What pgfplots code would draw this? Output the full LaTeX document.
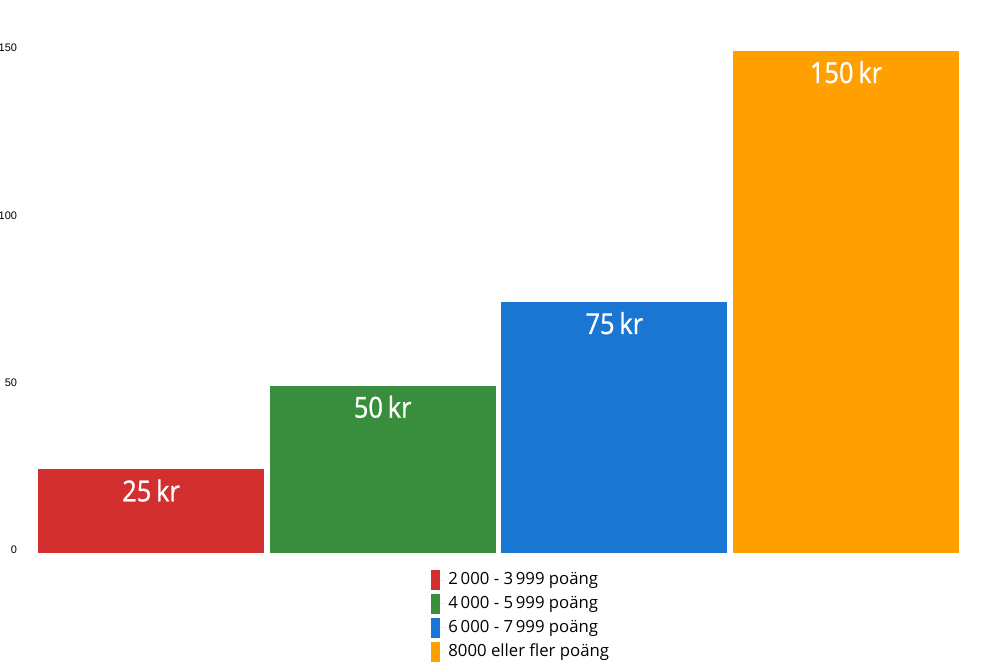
\documentclass[border=0pt]{standalone}
\usepackage{pgfplots}
\pgfplotsset{compat=1.18}
\usepackage{fontspec}
\setmainfont{Open Sans}
\newfontfamily\arialf{Liberation Sans}
\newfontfamily\barfont[FakeStretch=0.88,FakeBold=0.8]{Open Sans}
\definecolor{cred}{HTML}{D32F2F}
\definecolor{cgreen}{HTML}{388E3C}
\definecolor{cblue}{HTML}{1976D2}
\definecolor{corange}{HTML}{FFA000}
\begin{document}
\begin{tikzpicture}
\begin{axis}[
  scale only axis,
  width=460.5bp, height=251bp,
  xmin=-0.488, xmax=3.488,
  ymin=0, ymax=150,
  axis line style={draw=none},
  xtick=\empty,
  ytick={0,50,100,150},
  major tick length=0pt,
  /pgf/number format/assume math mode=true,
  yticklabel style={font=\arialf\fontsize{5.5}{6}\selectfont, xshift=-7bp, yshift=1.5bp},
  ybar, bar shift=0pt, bar width=113bp,
  nodes near coords={\pgfmathprintnumber{\pgfplotspointmeta}\,kr},
  every node near coord/.append style={font=\barfont\fontsize{14.5}{15}\selectfont, text=white, anchor=north, yshift=-1.5bp},
  legend style={draw=none, fill=none, at={(0.4267,-0.03)}, anchor=north west, font=\fontsize{8.4}{10}\selectfont, row sep=0.3bp, inner sep=0pt, cells={anchor=west}},
  legend image code/.code={\fill[#1] (0bp,-5bp) rectangle (4.5bp,5bp); \path (0bp,0bp) -- (6.5bp,0bp);},
]
\addplot[fill=cred, draw=none] coordinates {(0,25)};
\addplot[fill=cgreen, draw=none] coordinates {(1,50)};
\addplot[fill=cblue, draw=none] coordinates {(2,75)};
\addplot[fill=corange, draw=none] coordinates {(3,150)};
\legend{2\,000 - 3\,999 poäng, 4\,000 - 5\,999 poäng, 6\,000 - 7\,999 poäng, 8000 eller fler poäng}
\end{axis}
\pgfresetboundingbox
\useasboundingbox ([shift={(-19bp,-59.5bp)}]current axis.south west) rectangle ([shift={(20.5bp,25.5bp)}]current axis.north east);
\end{tikzpicture}
\end{document}
